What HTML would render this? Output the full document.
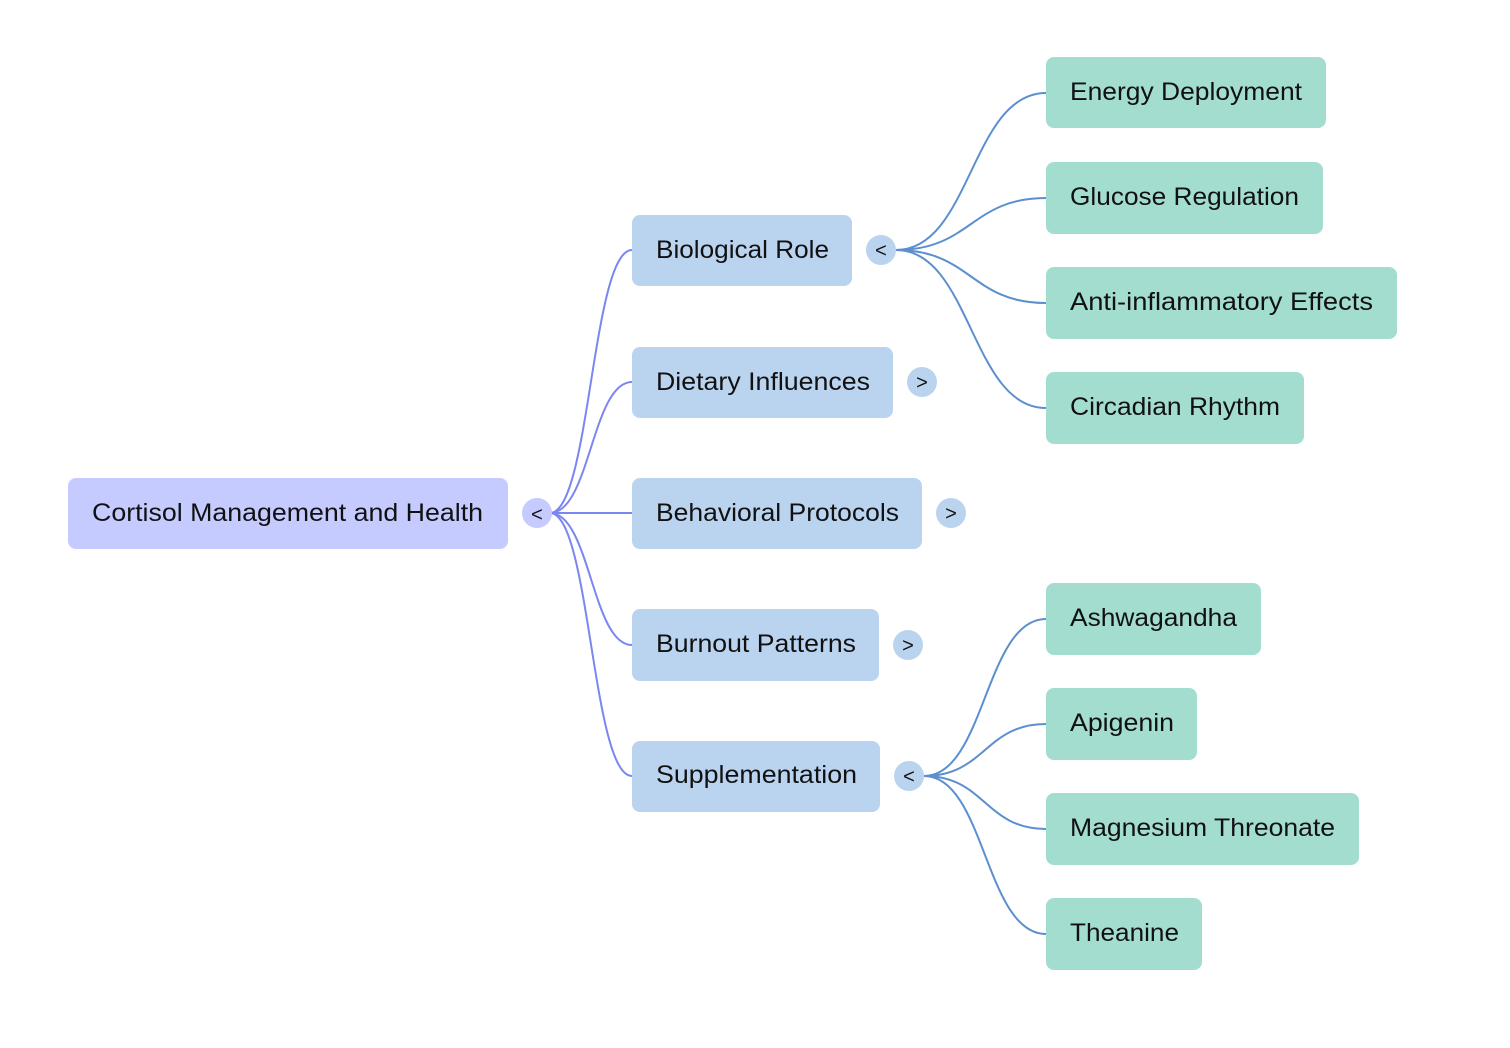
<!DOCTYPE html>
<html><head><meta charset="utf-8"><style>
html,body{margin:0;padding:0;background:#fff;}
svg{display:block;}
text{font-family:"Liberation Sans",sans-serif;font-size:25px;fill:#111;}
</style></head><body>
<svg width="1510" height="1048" viewBox="0 0 1510 1048" xmlns="http://www.w3.org/2000/svg">
<g fill="none" stroke="#7b86f0" stroke-width="2">
<path d="M550 513 C590 513,592 250,632 250"/>
<path d="M550 513 C590 513,592 382,632 382"/>
<path d="M550 513 L632 513"/>
<path d="M550 513 C590 513,592 645,632 645"/>
<path d="M550 513 C590 513,592 776,632 776"/>
</g>
<g fill="none" stroke="#5b8fd0" stroke-width="2">
<path d="M896 250 C971 250,971 93,1046 93"/>
<path d="M896 250 C971 250,971 198,1046 198"/>
<path d="M896 250 C971 250,971 303,1046 303"/>
<path d="M896 250 C971 250,971 408,1046 408"/>
<path d="M924 776 C985 776,985 619,1046 619"/>
<path d="M924 776 C985 776,985 724,1046 724"/>
<path d="M924 776 C985 776,985 829,1046 829"/>
<path d="M924 776 C985 776,985 934,1046 934"/>
</g>
<rect x="68" y="478" width="440" height="71" rx="8" fill="#c5caff"/>
<text x="92" y="521" textLength="391" lengthAdjust="spacingAndGlyphs">Cortisol Management and Health</text>
<circle cx="537" cy="513" r="15" fill="#c5caff"/><text x="537" y="521" text-anchor="middle" style="font-size:20px">&lt;</text>

<g fill="#bad4f0">
<rect x="632" y="215" width="220" height="71" rx="8"/>
<rect x="632" y="347" width="261" height="71" rx="8"/>
<rect x="632" y="478" width="290" height="71" rx="8"/>
<rect x="632" y="609" width="247" height="72" rx="8"/>
<rect x="632" y="741" width="248" height="71" rx="8"/>
<circle cx="881" cy="250" r="15"/>
<circle cx="922" cy="382" r="15"/>
<circle cx="951" cy="513" r="15"/>
<circle cx="908" cy="645" r="15"/>
<circle cx="909" cy="776" r="15"/>
</g>
<text x="656" y="258" textLength="173" lengthAdjust="spacingAndGlyphs">Biological Role</text>
<text x="656" y="390" textLength="214" lengthAdjust="spacingAndGlyphs">Dietary Influences</text>
<text x="656" y="521" textLength="243" lengthAdjust="spacingAndGlyphs">Behavioral Protocols</text>
<text x="656" y="652" textLength="200" lengthAdjust="spacingAndGlyphs">Burnout Patterns</text>
<text x="656" y="783" textLength="201" lengthAdjust="spacingAndGlyphs">Supplementation</text>
<g style="font-size:20px" text-anchor="middle">
<text x="881" y="257" style="font-size:20px">&lt;</text>
<text x="922" y="389" style="font-size:20px">&gt;</text>
<text x="951" y="520" style="font-size:20px">&gt;</text>
<text x="908" y="652" style="font-size:20px">&gt;</text>
<text x="909" y="783" style="font-size:20px">&lt;</text>
</g>

<g fill="#a3ddd0">
<rect x="1046" y="57" width="280" height="71" rx="8"/>
<rect x="1046" y="162" width="277" height="72" rx="8"/>
<rect x="1046" y="267" width="351" height="72" rx="8"/>
<rect x="1046" y="372" width="258" height="72" rx="8"/>
<rect x="1046" y="583" width="215" height="72" rx="8"/>
<rect x="1046" y="688" width="151" height="72" rx="8"/>
<rect x="1046" y="793" width="313" height="72" rx="8"/>
<rect x="1046" y="898" width="156" height="72" rx="8"/>
</g>
<text x="1070" y="100" textLength="232" lengthAdjust="spacingAndGlyphs">Energy Deployment</text>
<text x="1070" y="205" textLength="229" lengthAdjust="spacingAndGlyphs">Glucose Regulation</text>
<text x="1070" y="310" textLength="303" lengthAdjust="spacingAndGlyphs">Anti-inflammatory Effects</text>
<text x="1070" y="415" textLength="210" lengthAdjust="spacingAndGlyphs">Circadian Rhythm</text>
<text x="1070" y="626" textLength="167" lengthAdjust="spacingAndGlyphs">Ashwagandha</text>
<text x="1070" y="731" textLength="104" lengthAdjust="spacingAndGlyphs">Apigenin</text>
<text x="1070" y="836" textLength="265" lengthAdjust="spacingAndGlyphs">Magnesium Threonate</text>
<text x="1070" y="941" textLength="109" lengthAdjust="spacingAndGlyphs">Theanine</text>
</svg>
</body></html>
